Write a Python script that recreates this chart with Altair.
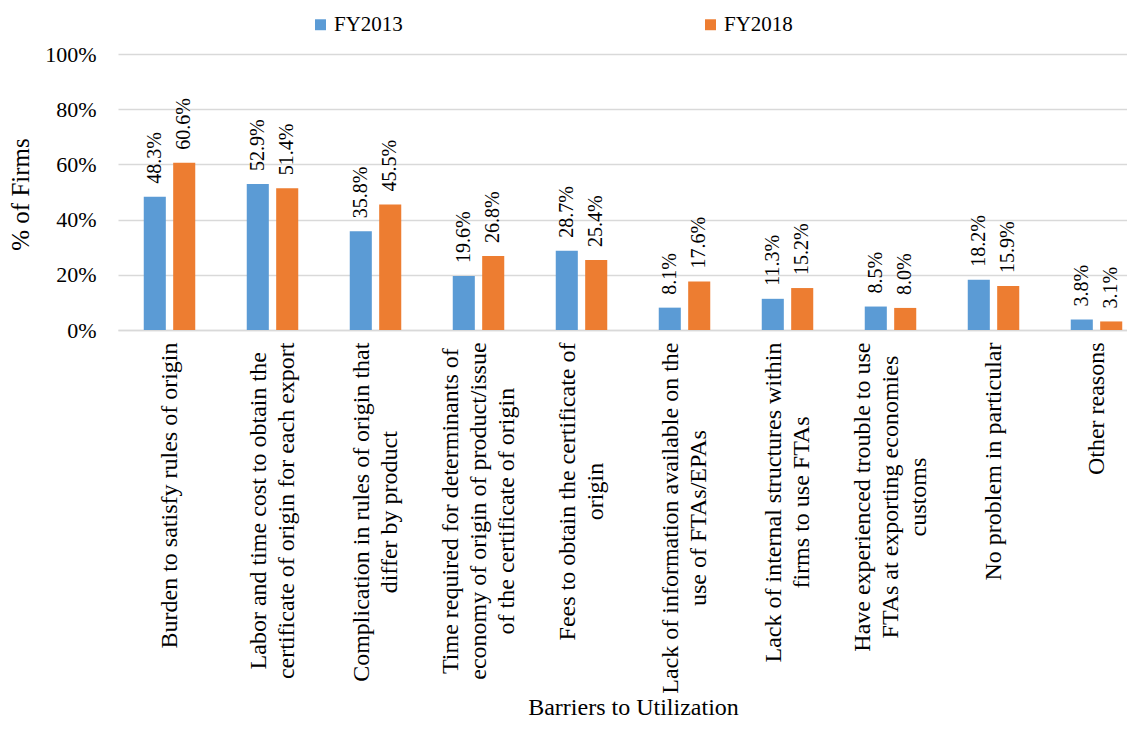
import altair as alt
import pandas as pd

categories = [
    "Burden to satisfy rules of origin",
    "Labor and time cost to obtain the|certificate of origin for each export",
    "Complication in rules of origin that|differ by product",
    "Time required for determinants of|economy of origin of product/issue|of the certificate of origin",
    "Fees to obtain the certificate of|origin",
    "Lack of information available on the|use of FTAs/EPAs",
    "Lack of internal structures within|firms to use FTAs",
    "Have experienced trouble to use|FTAs at exporting economies|customs",
    "No problem in particular",
    "Other reasons",
]
series = ["FY2013", "FY2018"]
fy2013 = [48.3, 52.9, 35.8, 19.6, 28.7, 8.1, 11.3, 8.5, 18.2, 3.8]
fy2018 = [60.6, 51.4, 45.5, 26.8, 25.4, 17.6, 15.2, 8.0, 15.9, 3.1]
colors = ["#5B9BD5", "#ED7D31"]

rows = []
for c, a, b in zip(categories, fy2013, fy2018):
    rows.append({"category": c, "series": series[0], "value": a})
    rows.append({"category": c, "series": series[1], "value": b})
df = pd.DataFrame(rows)

FONT = "Times New Roman, Liberation Serif, serif"
XLAB_SIZE = 24
XLAB_LINE = 28
XLAB_PAD = 12

# Times-Roman advance widths (per 1000 em) used to centre each wrapped label block
_W = dict(zip("abcdefghijklmnopqrstuvwxyz",
              [444, 500, 444, 500, 444, 333, 500, 500, 278, 278, 500, 278, 778,
               500, 500, 500, 500, 333, 389, 278, 500, 500, 722, 500, 500, 444]))
_W.update(dict(zip("ABCDEFGHIJKLMNOPQRSTUVWXYZ",
                   [722, 667, 667, 722, 611, 556, 722, 722, 333, 389, 722, 611, 889,
                    722, 722, 556, 722, 667, 556, 611, 722, 722, 944, 722, 722, 611])))
_W.update({" ": 250, "/": 278, ".": 250})


def text_width(s):
    return sum(_W.get(ch, 500) for ch in s) * XLAB_SIZE / 1000.0


pad_conditions = []
off_conditions = []
for c in categories:
    lines = c.split("|")
    w = max(text_width(l) for l in lines)
    pad_conditions.append({"test": f"datum.value == '{c}'", "value": round(XLAB_PAD + w / 2, 1)})
    off_conditions.append({"test": f"datum.value == '{c}'", "value": -(len(lines) - 1) * XLAB_LINE / 2})

x = alt.X(
    "category:N",
    sort=categories,
    scale=alt.Scale(range=[0, 1030], paddingInner=0.5, paddingOuter=0.25),
    axis=alt.Axis(
        title="Barriers to Utilization",
        titleFont=FONT, titleFontSize=24, titleFontWeight="normal", titleColor="black",
        titleX=515, titleY=384, titleBaseline="alphabetic",
        labelExpr="split(datum.label, '|')",
        labelAngle=-90, labelAlign="center", labelBaseline="middle",
        labelFont=FONT, labelFontSize=XLAB_SIZE, labelColor="black", labelLineHeight=XLAB_LINE,
        labelPadding={"condition": pad_conditions, "value": XLAB_PAD},
        labelOffset={"condition": off_conditions, "value": 0},
        labelLimit=600, labelOverlap=False,
        ticks=False, domainColor="#d9d9d9", domainWidth=1.5,
    ),
)
xo = alt.XOffset("series:N", sort=series, scale=alt.Scale(paddingInner=0.25))
y = alt.Y(
    "value:Q",
    scale=alt.Scale(domain=[0, 100]),
    axis=alt.Axis(
        title="% of Firms", values=[0, 20, 40, 60, 80, 100],
        labelExpr="datum.value + '%'",
        titleFont=FONT, titleFontSize=25, titleFontWeight="normal", titleColor="black",
        titleX=-98, titleY=140, titleAngle=-90, titleBaseline="middle", titleAlign="center",
        labelFont=FONT, labelFontSize=22, labelColor="black", labelPadding=22,
        ticks=False, domain=False, gridColor="#d9d9d9", gridWidth=1.5,
    ),
)
color = alt.Color(
    "series:N", sort=series,
    scale=alt.Scale(domain=series, range=colors),
    legend=alt.Legend(
        title=None, orient="none", direction="horizontal", legendX=192, legendY=-40,
        symbolType="square", symbolSize=120, symbolStrokeWidth=0,
        labelFont=FONT, labelFontSize=21, labelColor="black", labelOffset=3,
        columnPadding=297, padding=0,
    ),
)

base = alt.Chart(df)
bars = base.mark_bar().encode(x=x, xOffset=xo, y=y, color=color)
labels = base.transform_calculate(
    label="format(datum.value, '.1f') + '%'"
).mark_text(
    angle=270, align="left", baseline="middle", dx=13, font=FONT, fontSize=20, color="black"
).encode(x=x, xOffset=xo, y=y, text="label:N")

chart = alt.layer(bars, labels).properties(
    width=1009, height=276,
    autosize=alt.AutoSizeParams(type="none"),
    padding={"left": 110, "top": 46, "right": 0, "bottom": 390},
).configure_view(stroke=None)

chart.save("out.html", embed_options={"renderer": "svg", "actions": False})
